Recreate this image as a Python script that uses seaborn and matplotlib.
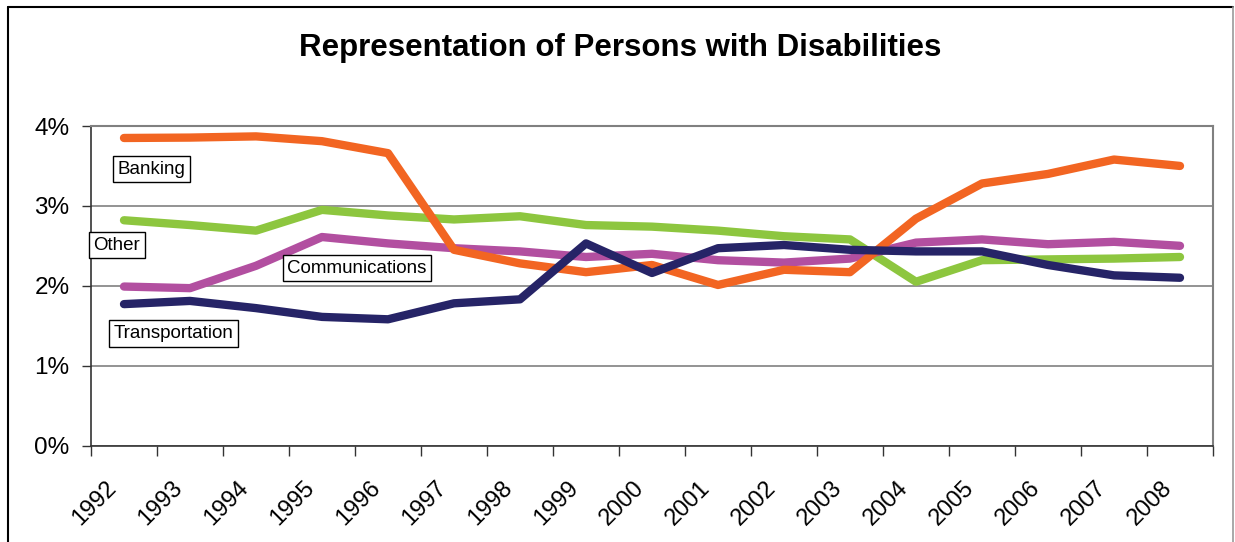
import numpy as np
import pandas as pd
import matplotlib
matplotlib.use("Agg")
import matplotlib.pyplot as plt
from matplotlib.transforms import ScaledTranslation
from matplotlib.lines import Line2D
import seaborn as sns

# Share of employees who are persons with disabilities, by sector (%)
years = ["1992", "1993", "1994", "1995", "1996", "1997", "1998", "1999", "2000",
         "2001", "2002", "2003", "2004", "2005", "2006", "2007", "2008"]
banking = [3.85, 3.855, 3.87, 3.81, 3.66, 2.45, 2.28, 2.17, 2.26, 2.01, 2.20,
           2.17, 2.84, 3.28, 3.40, 3.58, 3.50]
other = [2.82, 2.76, 2.69, 2.95, 2.88, 2.83, 2.87, 2.76, 2.74, 2.69, 2.62,
         2.58, 2.05, 2.32, 2.33, 2.34, 2.36]
communications = [1.99, 1.97, 2.25, 2.61, 2.53, 2.47, 2.43, 2.36, 2.40, 2.32,
                  2.29, 2.34, 2.54, 2.58, 2.52, 2.55, 2.50]
transportation = [1.77, 1.81, 1.72, 1.61, 1.58, 1.78, 1.83, 2.53, 2.16, 2.47,
                  2.51, 2.45, 2.43, 2.43, 2.26, 2.13, 2.10]
y_ticks = [0, 1, 2, 3, 4]

sectors = ["Other", "Communications", "Banking", "Transportation"]
series = {"Banking": banking, "Other": other,
          "Communications": communications, "Transportation": transportation}
palette = {"Banking": "#F26522", "Other": "#8DC63F",
           "Communications": "#B24FA0", "Transportation": "#262467"}

pos = np.arange(len(years))
df = pd.DataFrame([
    {"sector": s, "pos": p, "value": v}
    for s in sectors for p, v in zip(pos, series[s])
])

sns.set_style("white")
plt.rcParams["font.family"] = ["Liberation Sans", "DejaVu Sans"]
plt.rcParams["text.color"] = "black"
plt.rcParams["xtick.color"] = "black"
plt.rcParams["ytick.color"] = "black"
plt.rcParams["xtick.labelcolor"] = "black"
plt.rcParams["ytick.labelcolor"] = "black"

fig = plt.figure(figsize=(12.35, 5.42), dpi=100)
ax = fig.add_axes([91 / 1235, 1 - 445.5 / 542, (1213 - 91) / 1235, (445.5 - 126) / 542])

sns.lineplot(data=df, x="pos", y="value", hue="sector", hue_order=sectors,
             palette=palette, linewidth=6, legend=False, sort=False, ax=ax)
for ln in ax.lines:
    ln.set_solid_capstyle("round")
    ln.set_solid_joinstyle("round")

ax.set_xlim(-0.5, len(years) - 0.5)
ax.set_ylim(0, 4)
ax.set_xlabel("")
ax.set_ylabel("")

# gridlines
ax.set_yticks(y_ticks)
ax.set_yticklabels([f"{t}%" for t in y_ticks])
ax.yaxis.grid(True, color="#808080", linewidth=1.2)
ax.set_axisbelow(True)

# category ticks at boundaries, labels at centres
ax.set_xticks(pos)
ax.set_xticks(np.arange(len(years) + 1) - 0.5, minor=True)
ax.set_xticklabels(years)
ax.tick_params(axis="x", which="major", length=0, pad=28, labelsize=17)
ax.tick_params(axis="x", which="minor", length=7, width=1, color="#333333",
               direction="out", bottom=True)
ax.tick_params(axis="y", length=6.5, width=1, color="#333333", direction="out",
               pad=9, labelsize=17.5, left=True)
shift = ScaledTranslation(-11 / 100, 0, fig.dpi_scale_trans)
for lab in ax.get_xticklabels():
    lab.set_rotation(45)
    lab.set_ha("right")
    lab.set_va("center")
    lab.set_rotation_mode("anchor")
    lab.set_transform(lab.get_transform() + shift)

for side in ("top", "right"):
    ax.spines[side].set_color("#808080")
    ax.spines[side].set_linewidth(1.5)
for side in ("left", "bottom"):
    ax.spines[side].set_color("#333333")
    ax.spines[side].set_linewidth(1.2)

# series labels
box = dict(boxstyle="square,pad=0.25", fc="white", ec="black", lw=1)
labels = [("Banking", 0.42, 3.46), ("Other", -0.11, 2.51),
          ("Communications", 3.53, 2.22), ("Transportation", 0.755, 1.40)]
for name, lx, ly in labels:
    ax.text(lx, ly, name, ha="center", va="center", fontsize=13.5, bbox=box,
            zorder=5, color="black")

fig.text(620 / 1235, 1 - 48 / 542, "Representation of Persons with Disabilities",
         ha="center", va="center", fontsize=22.5, fontweight="bold", color="black")

# outer chart frame
fig.add_artist(Line2D([8 / 1235, 1233 / 1235], [1 - 7 / 542, 1 - 7 / 542],
                      transform=fig.transFigure, color="black", lw=1.5))
fig.add_artist(Line2D([8 / 1235, 8 / 1235], [0, 1 - 7 / 542],
                      transform=fig.transFigure, color="black", lw=1.5))
fig.add_artist(Line2D([1233 / 1235, 1233 / 1235], [0, 1 - 7 / 542],
                      transform=fig.transFigure, color="#999999", lw=1.2))

fig.savefig("out.png", dpi=100, facecolor="white")
